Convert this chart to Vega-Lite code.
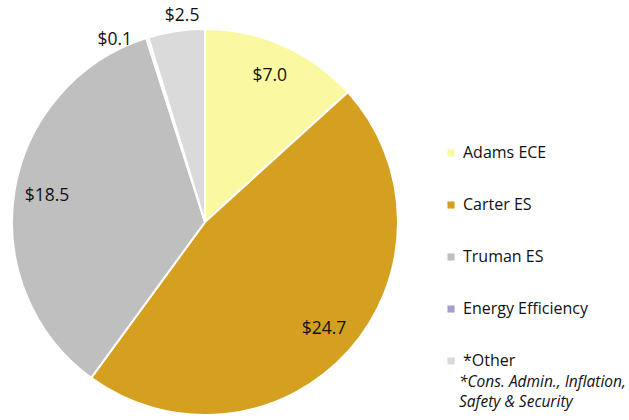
{
  "$schema": "https://vega.github.io/schema/vega-lite/v6.json",
  "width": 410,
  "height": 444,
  "autosize": "none",
  "padding": {"left": 0, "top": 0, "right": 219, "bottom": 0},
  "background": "white",
  "config": {"view": {"stroke": null}, "font": "Open Sans"},
  "title": {
    "text": ["*Cons. Admin., Inflation,", "Safety & Security"],
    "orient": "top",
    "anchor": "end",
    "frame": "group",
    "align": "left",
    "baseline": "top",
    "dx": 49,
    "dy": 414,
    "fontStyle": "italic",
    "fontWeight": "normal",
    "fontSize": 15.5,
    "lineHeight": 20,
    "color": "#111111",
    "font": "Open Sans"
  },
  "data": {
    "values": [
      {"project": "Adams ECE", "amount": 7.0, "rank": 1, "place": "in"},
      {"project": "Carter ES", "amount": 24.7, "rank": 2, "place": "in"},
      {"project": "Truman ES", "amount": 18.5, "rank": 3, "place": "in"},
      {"project": "Energy Efficiency", "amount": 0.1, "rank": 4, "place": "energy"},
      {"project": "*Other", "amount": 2.5, "rank": 5, "place": "other"}
    ]
  },
  "encoding": {
    "theta": {"field": "amount", "type": "quantitative", "stack": true},
    "order": {"field": "rank", "type": "quantitative"}
  },
  "layer": [
    {
      "mark": {"type": "arc", "outerRadius": 193, "stroke": "white", "strokeWidth": 2},
      "encoding": {
        "color": {
          "field": "project",
          "type": "nominal",
          "sort": null,
          "scale": {
            "domain": ["Adams ECE", "Carter ES", "Truman ES", "Energy Efficiency", "*Other"],
            "range": ["#FAF8A0", "#D5A01F", "#BFBFBF", "#A99CC6", "#DADADA"]
          },
          "legend": {
            "title": null,
            "orient": "none",
            "legendX": 443,
            "legendY": 145,
            "symbolType": "square",
            "symbolSize": 50,
            "symbolStrokeWidth": 0,
            "labelFontSize": 16,
            "labelFont": "Open Sans",
            "labelColor": "#111111",
            "labelOffset": 4,
            "rowPadding": 36
          }
        }
      }
    },
    {
      "mark": {"type": "text", "radius": 160, "fontSize": 17.5, "font": "Open Sans", "color": "#111111"},
      "encoding": {"text": {"condition": {"test": "datum.place == 'in'", "field": "amount", "type": "quantitative", "format": "$.1f"}, "value": ""}}
    },
    {
      "mark": {"type": "text", "radius": 205, "dx": -29, "dy": 14, "fontSize": 17.5, "font": "Open Sans", "color": "#111111"},
      "encoding": {"text": {"condition": {"test": "datum.place == 'energy'", "field": "amount", "type": "quantitative", "format": "$.1f"}, "value": ""}}
    },
    {
      "mark": {"type": "text", "radius": 208, "dx": 8, "fontSize": 17.5, "font": "Open Sans", "color": "#111111"},
      "encoding": {"text": {"condition": {"test": "datum.place == 'other'", "field": "amount", "type": "quantitative", "format": "$.1f"}, "value": ""}}
    }
  ]
}
